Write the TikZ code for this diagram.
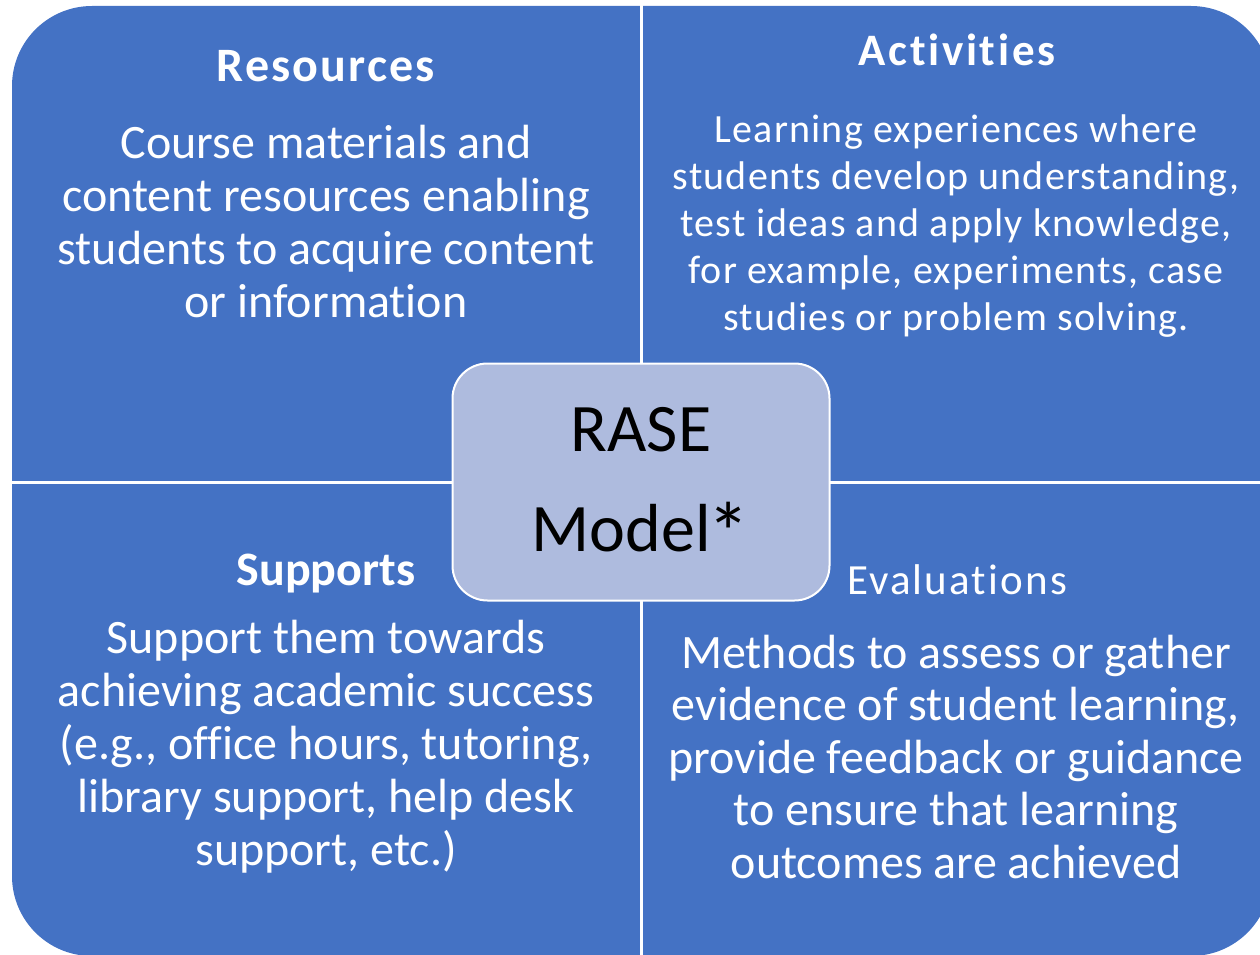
\documentclass[tikz,border=0pt]{standalone}
\usepackage{fontspec}
\setmainfont{Carlito}[Ligatures=NoCommon]
\definecolor{quadblue}{RGB}{68,114,196}
\definecolor{centerfill}{RGB}{174,187,222}
\tikzset{
  quadtext/.style={text=white, align=center, inner sep=0pt, anchor=base},
  bodyA/.style={quadtext, font=\fontsize{48}{53}\selectfont},
  bodyE/.style={quadtext, font=\fontsize{48}{52.5}\selectfont},
  bodyB/.style={quadtext, font=\fontsize{40}{47}\selectfont\addfontfeature{LetterSpace=3}},
  sep/.style={draw=white, line width=3pt},
}
\begin{document}
\begin{tikzpicture}[x=1pt,y=-1pt]
\useasboundingbox (0,0) rectangle (1260,955);
\begin{scope}
\clip (0,0) rectangle (1260,955);
\fill[quadblue, rounded corners=80pt] (12,6) rectangle (1271,956);
\coordinate (vt) at (641,0);
\coordinate (vb) at (641,955);
\coordinate (hl) at (12,482);
\coordinate (hr) at (1260,482);
\draw[sep] (vt) -- (vb);
\draw[sep] (hl) -- (hr);
\end{scope}
\node[draw=white, line width=2pt, fill=centerfill, rounded corners=35pt, minimum width=377pt, minimum height=237pt] (center) at (641,482) {};
\node[font=\fontsize{68}{100}\selectfont, text=black, align=center] (rase) at (641,485) {RASE\\Model\kern-3pt\raisebox{-11pt}{\scalebox{1.25}{*}}};

\node[quadtext, font=\fontsize{48}{53}\selectfont\bfseries\addfontfeature{LetterSpace=4.5}] (rt) at (326,81.7) {Resources};
\node[bodyA] (rb) at (326,317) {Course materials and\\content resources enabling\\students to acquire content\\or information};

\node[quadtext, font=\fontsize{45}{50}\selectfont\bfseries\addfontfeature{LetterSpace=6}] (at) at (957,66) {Activities};
\node[bodyB] (ab) at (956,330) {Learning experiences where\\students develop understanding,\\test ideas and apply knowledge,\\for example, experiments, case\\studies or problem solving.};

\node[quadtext, font=\fontsize{48}{53}\selectfont\bfseries] (st) at (326,585) {Supports};
\node[bodyA] (sb) at (326,865) {Support them towards\\achieving academic success\\(e.g., office hours, tutoring,\\library support, help desk\\support, etc.)};

\node[quadtext, font=\fontsize{43}{50}\selectfont\addfontfeature{LetterSpace=5}] (et) at (957,594) {Evaluations};
\node[bodyE] (eb) at (956,878) {Methods to assess or gather\\evidence of student learning,\\provide feedback or guidance\\to ensure that learning\\outcomes are achieved};
\end{tikzpicture}
\end{document}
